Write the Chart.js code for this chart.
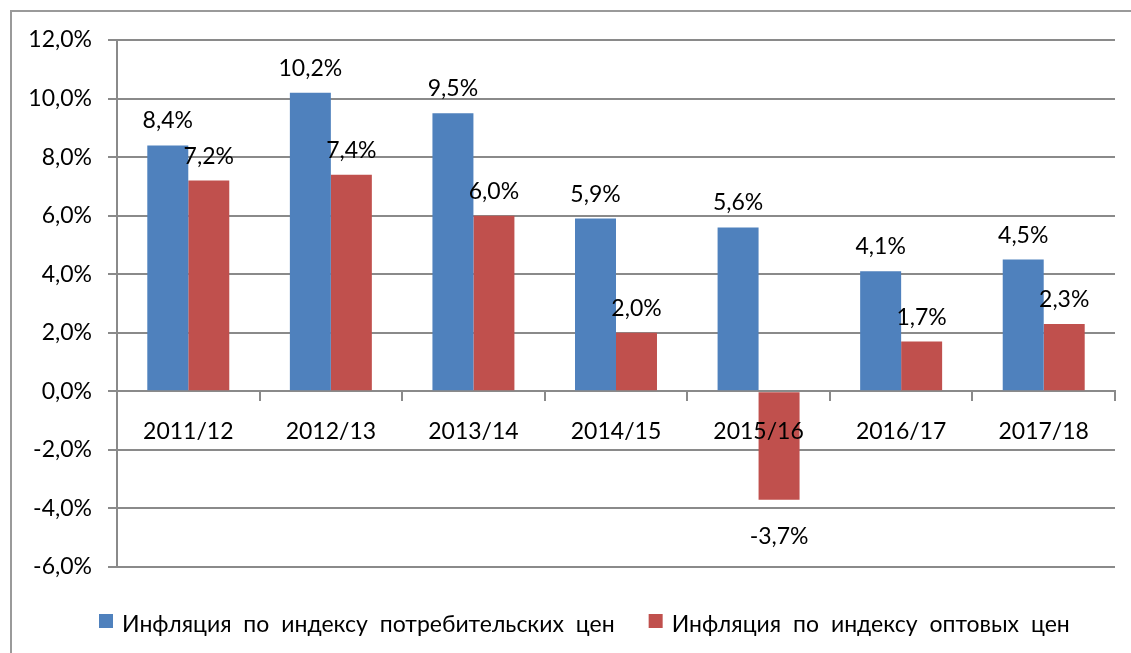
<!DOCTYPE html>
<html>
<head>
<meta charset="utf-8">
<script src="https://cdn.jsdelivr.net/npm/chart.js@4.4.0/dist/chart.umd.min.js"></script>
<style>
  html, body { margin: 0; padding: 0; background: #fff; overflow: hidden; }
  #wrap { position: relative; width: 1131px; height: 653px; overflow: hidden; }
  #frame { position: absolute; left: 10px; top: 10px; width: 1200px; height: 700px; border: 2px solid #9a9a9a; box-sizing: border-box; }
  canvas { position: absolute; left: 0; top: 0; }
</style>
</head>
<body>
<div id="wrap">
  <div id="frame"></div>
  <canvas id="myChart" width="1131" height="653"></canvas>
</div>
<script>
// data
const years = ["2011/12", "2012/13", "2013/14", "2014/15", "2015/16", "2016/17", "2017/18"];
const cpiInflation = [8.4, 10.2, 9.5, 5.9, 5.6, 4.1, 4.5];
const wpiInflation = [7.2, 7.4, 6.0, 2.0, -3.7, 1.7, 2.3];
const seriesNames = ["Инфляция по индексу потребительских цен", "Инфляция по индексу оптовых цен"];
const yMin = -6;
const yMax = 12;
const yStep = 2;

const fontFamily = "Lato, 'Noto Sans', sans-serif";
const fontSize = 23;
const gridColor = "#8a8a8a";

function pct(v) {
  return v.toFixed(1).replace(".", ",") + "%";
}

// labels over the bars
const valueLabels = {
  id: "valueLabels",
  afterDatasetsDraw(chart) {
    const ctx = chart.ctx;
    ctx.save();
    ctx.font = fontSize + "px " + fontFamily;
    ctx.fillStyle = "#000";
    ctx.textAlign = "center";
    ctx.textBaseline = "alphabetic";
    chart.data.datasets.forEach((ds, i) => {
      chart.getDatasetMeta(i).data.forEach((bar, j) => {
        const v = ds.data[j];
        const y = v >= 0 ? bar.y - 17 : bar.y + 44;
        ctx.fillText(pct(v), bar.x, y);
      });
    });
    ctx.restore();
  },
};

// legend under the plot
const bottomLegend = {
  id: "bottomLegend",
  afterDraw(chart) {
    const ctx = chart.ctx;
    ctx.save();
    ctx.font = fontSize + "px " + fontFamily;
    ctx.wordSpacing = "6px";
    ctx.textBaseline = "alphabetic";
    ctx.textAlign = "left";
    let x = 99;
    chart.data.datasets.forEach((ds) => {
      ctx.fillStyle = ds.backgroundColor;
      ctx.fillRect(x, 614, 14, 14);
      ctx.fillStyle = "#000";
      ctx.fillText(ds.label, x + 23, 632);
      x += 23 + ctx.measureText(ds.label).width + 34;
    });
    ctx.restore();
  },
};

let barChart = new Chart(document.getElementById("myChart"), {
  type: "bar",
  data: {
    labels: years,
    datasets: [
      {
        label: seriesNames[0],
        data: cpiInflation,
        backgroundColor: "#4F81BD",
        borderWidth: 0,
      },
      {
        label: seriesNames[1],
        data: wpiInflation,
        backgroundColor: "#C0504D",
        borderWidth: 0,
      },
    ],
  },
  options: {
    responsive: false,
    animation: false,
    categoryPercentage: 0.575,
    barPercentage: 1,
    layout: {
      padding: { left: 0, top: 40, right: 16, bottom: 86 },
    },
    plugins: {
      legend: { display: false },
      tooltip: { enabled: false },
    },
    scales: {
      x: {
        position: { y: 0 },
        grid: { drawOnChartArea: false, offset: true, tickLength: 9, color: gridColor, lineWidth: 2 },
        border: { display: true, color: gridColor, width: 2 },
        ticks: { z: 1, color: "#000", font: { family: fontFamily, size: fontSize }, padding: 17, maxRotation: 0 },
      },
      y: {
        min: yMin,
        max: yMax,
        afterFit(scale) {
          scale.width = 117;
        },
        grid: { color: gridColor, lineWidth: 2, tickLength: 9 },
        border: { display: true, color: gridColor, width: 2 },
        ticks: {
          stepSize: yStep,
          color: "#000",
          font: { family: fontFamily, size: fontSize },
          padding: 16,
          callback: (v) => pct(v),
        },
      },
    },
  },
  plugins: [valueLabels, bottomLegend],
});
</script>
</body>
</html>
